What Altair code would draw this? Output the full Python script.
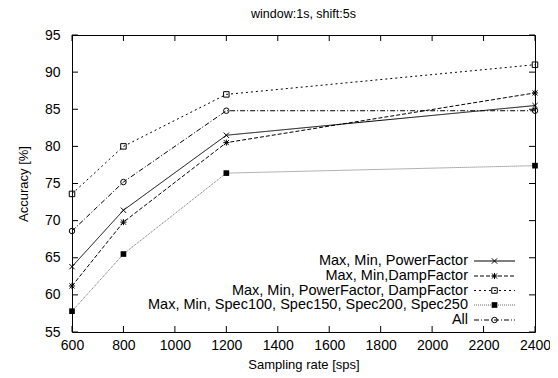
import altair as alt
import pandas as pd

sps = [600, 800, 1200, 2400]
series_names = [
    "Max, Min, PowerFactor",
    "Max, Min,DampFactor",
    "Max, Min, PowerFactor, DampFactor",
    "Max, Min, Spec100, Spec150, Spec200, Spec250",
    "All",
]
acc_pf = [63.8, 71.4, 81.5, 85.5]
acc_df = [61.2, 69.8, 80.5, 87.2]
acc_pfdf = [73.6, 80.0, 87.0, 91.0]
acc_spec = [57.8, 65.5, 76.4, 77.4]
acc_all = [68.6, 75.2, 84.8, 84.8]
values = [acc_pf, acc_df, acc_pfdf, acc_spec, acc_all]

x_ticks = [600, 800, 1000, 1200, 1400, 1600, 1800, 2000, 2200, 2400]
y_ticks = [55, 60, 65, 70, 75, 80, 85, 90, 95]
chart_title = "window:1s, shift:5s"

W, H = 463, 297
FONT = "Liberation Sans"

X_PATH = "M-1,-1L1,1M-1,1L1,-1"
STAR_PATH = "M-1,-1L1,1M-1,1L1,-1M-1.2,0L1.2,0M0,-1.2L0,1.2"
styles = [
    dict(dash=[1, 0], color="#000000", shape=X_PATH, filled=False, size=28),
    dict(dash=[4, 2], color="#000000", shape=STAR_PATH, filled=False, size=26),
    dict(dash=[2, 3], color="#000000", shape="square", filled=False, size=30),
    dict(dash=[1, 1], color="#666666", shape="square", filled=True, size=32),
    dict(dash=[5, 2, 1, 2], color="#000000", shape="circle", filled=False, size=30),
]

xs = alt.Scale(domain=[600, 2400], nice=False)
ys = alt.Scale(domain=[55, 95], nice=False)

x_axis = alt.Axis(values=x_ticks, format="d", labelOverlap=False, labelFlush=False,
                  title="Sampling rate [sps]", tickSize=0, labelPadding=6,
                  grid=False, domain=False, titlePadding=6)
y_axis = alt.Axis(values=y_ticks, format="d", labelOverlap=False, labelFlush=False,
                  title="Accuracy [%]", tickSize=0, labelPadding=12,
                  grid=False, domain=False, titlePadding=14)

layers = []
for name, vals, st in zip(series_names, values, styles):
    df = pd.DataFrame({"sps": sps, "acc": vals, "series": name})
    enc = dict(
        x=alt.X("sps:Q", scale=xs, axis=x_axis),
        y=alt.Y("acc:Q", scale=ys, axis=y_axis),
    )
    layers.append(alt.Chart(df).mark_line(
        color=st["color"], strokeDash=st["dash"], strokeWidth=1).encode(**enc))
    layers.append(alt.Chart(df).mark_point(
        shape=st["shape"], filled=st["filled"], color="#000000",
        size=st["size"], strokeWidth=1, opacity=1).encode(**enc))

# inward ticks on all four sides
xt = pd.DataFrame({"sps": x_ticks})
yt = pd.DataFrame({"acc": y_ticks})
for y0, y1 in [(0, 6), (H, H - 6)]:
    layers.append(alt.Chart(xt).mark_rule(color="black", strokeWidth=1).encode(
        x=alt.X("sps:Q", scale=xs, axis=x_axis), y=alt.value(y0), y2=alt.value(y1)))
for x0, x1 in [(0, 6), (W, W - 6)]:
    layers.append(alt.Chart(yt).mark_rule(color="black", strokeWidth=1).encode(
        y=alt.Y("acc:Q", scale=ys, axis=y_axis), x=alt.value(x0), x2=alt.value(x1)))

one = pd.DataFrame({"k": [0]})

# title
layers.append(alt.Chart(one).mark_text(
    text=chart_title, align="center", baseline="alphabetic", font=FONT, fontSize=12.5,
    color="black").encode(x=alt.value(W / 2), y=alt.value(-17)))

# legend (gnuplot style, inside bottom right)
row_y = [226, 241, 255.5, 270, 285]
for name, st, ry in zip(series_names, styles, row_y):
    layers.append(alt.Chart(one).mark_text(
        text=name, align="right", baseline="middle", font=FONT, fontSize=14.5,
        color="black").encode(x=alt.value(396), y=alt.value(ry)))
    layers.append(alt.Chart(one).mark_rule(
        color=st["color"], strokeDash=st["dash"], strokeWidth=1).encode(
        x=alt.value(402), x2=alt.value(443), y=alt.value(ry)))
    layers.append(alt.Chart(one).mark_point(
        shape=st["shape"], filled=st["filled"], color="#000000",
        size=st["size"], strokeWidth=1, opacity=1).encode(
        x=alt.value(422.5), y=alt.value(ry)))

chart = alt.layer(*layers).properties(
    width=W, height=H,
    autosize=alt.AutoSizeParams(type="none"),
    padding={"left": 64, "top": 27, "right": 15, "bottom": 46},
).configure_view(stroke="black", strokeWidth=1).configure_axis(
    labelFont=FONT, labelFontSize=14, labelColor="black",
    labelOverlap=False, labelFlush=False,
    titleFont=FONT, titleFontSize=13, titleFontWeight="normal", titleColor="black",
)

chart.save("out.html", embed_options={"renderer": "svg", "actions": False})
